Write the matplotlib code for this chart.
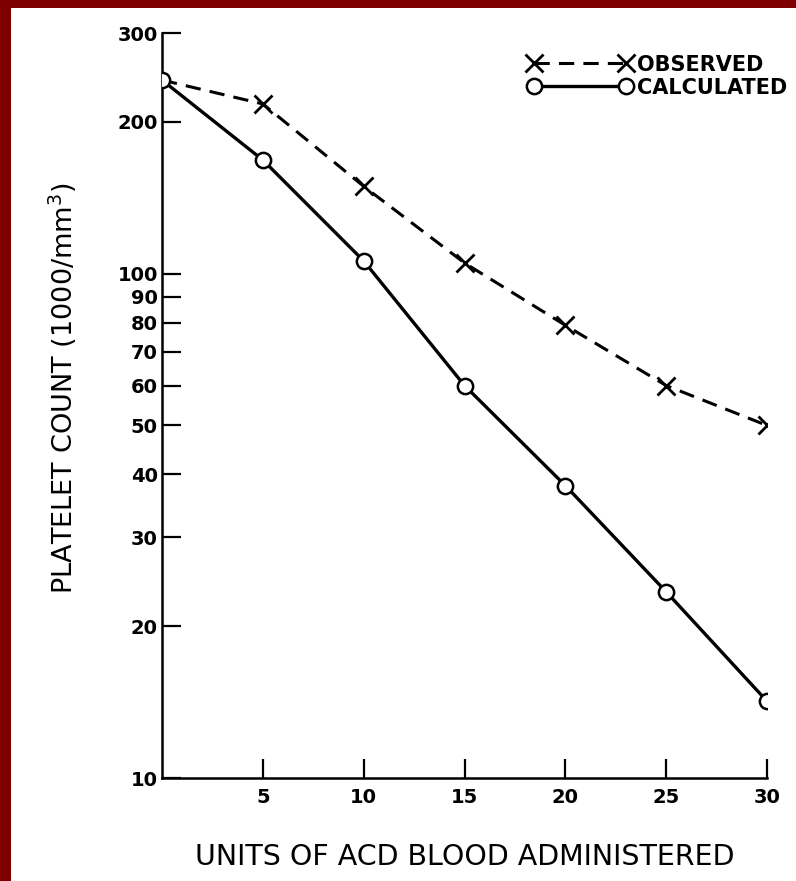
import matplotlib
matplotlib.use("Agg")
import matplotlib.pyplot as plt
from matplotlib.patches import Rectangle
from matplotlib.ticker import NullLocator

units = [0, 5, 10, 15, 20, 25, 30]
observed = [242, 217, 149, 105, 79, 60, 50]
calculated = [242, 168, 106, 60, 38, 23.4, 14.2]
y_ticks = [10, 20, 30, 40, 50, 60, 70, 80, 90, 100, 200, 300]
x_ticks = [5, 10, 15, 20, 25, 30]

fig = plt.figure(figsize=(7.96, 8.81), dpi=100, facecolor="#7f0000")
fig.patches.append(Rectangle((11/796, 0), 1, 1 - 8/881, transform=fig.transFigure,
                             facecolor="white", edgecolor="none", zorder=-10))
ax = fig.add_axes([162/796, 1 - 778/881, (767-162)/796, (778-33)/881])
ax.set_zorder(5)
ax.set_facecolor("none")

ax.plot(units, observed, color="black", lw=2.2, ls=(0, (5, 3)), marker="x",
        ms=13, mew=2.0, markevery=slice(1, None), label="OBSERVED", zorder=2)
ax.plot(units, calculated, color="black", lw=2.4, marker="o", ms=11,
        mfc="white", mec="black", mew=1.8, label="CALCULATED", zorder=3)

ax.set_yscale("log")
ax.set_ylim(10, 300)
ax.set_xlim(0, 30)
ax.yaxis.set_minor_locator(NullLocator())
ax.set_yticks(y_ticks, [str(v) for v in y_ticks])
ax.set_xticks(x_ticks, [str(v) for v in x_ticks])
for s in ["top", "right"]:
    ax.spines[s].set_visible(False)
for s in ["left", "bottom"]:
    ax.spines[s].set_linewidth(1.8)
ax.tick_params(direction="in", length=14, width=1.6, labelsize=14, pad=3)
for lab in ax.get_xticklabels() + ax.get_yticklabels():
    lab.set_fontweight("bold")
ax.tick_params(axis="x", pad=7)

ax.set_ylabel("PLATELET COUNT (1000/mm$^3$)", fontsize=19.5)
ax.yaxis.set_label_coords(-0.138, 0.523)
ax.set_xlabel("UNITS OF ACD BLOOD ADMINISTERED", fontsize=20.5, labelpad=26)

leg = ax.legend(loc="upper right", bbox_to_anchor=(1.058, 0.9906), numpoints=2,
                frameon=False, handlelength=5.0, handletextpad=0.25,
                labelspacing=0.15, borderpad=0.2,
                prop={"weight": "bold", "size": 15})

fig.savefig("out.png", dpi=100, facecolor=fig.get_facecolor())
